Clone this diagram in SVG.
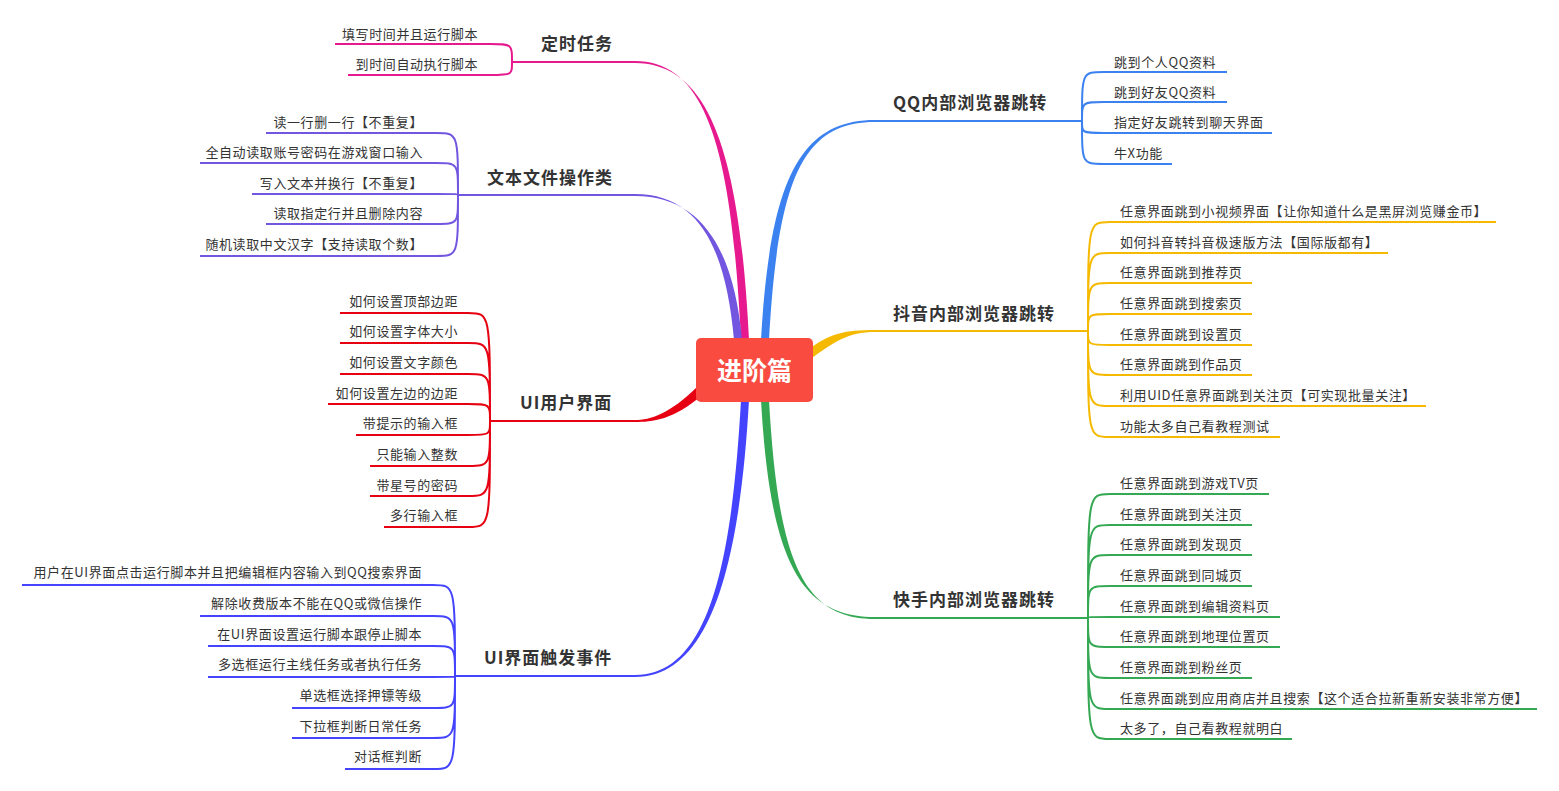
<svg xmlns="http://www.w3.org/2000/svg" width="1559" height="791" viewBox="0 0 1559 791">
<style>
.l{font-family:"Noto Sans CJK SC","Noto Sans",sans-serif;font-size:13px;fill:#333;letter-spacing:0.6px}
.t{font-family:"Noto Sans CJK SC","Noto Sans",sans-serif;font-size:17px;font-weight:bold;fill:#333;letter-spacing:1px}
.c{fill:none;stroke-width:2}
.e{text-anchor:end}
</style>
<rect width="1559" height="791" fill="#fff"/>
<g id="connectors">
<path d="M741,340 C732,160 710,61 635,61 L635,63 C712,63 740,160 749,340Z" fill="#E6198F"/>
<path d="M734,340 C726,250 700,194 635,194 L635,196 C702,196 734,250 742,340Z" fill="#7356E0"/>
<path d="M698,386 C670,414 650,420 635,420 L635,422 C652,422 674,420 702,395Z" fill="#E60012"/>
<path d="M741,400 C732,560 710,675 635,675 L635,677 C712,677 740,560 749,400Z" fill="#4444FF"/>
<path d="M761,340 C770,180 800,120 875,120 L875,122 C802,122 778,180 769,340Z" fill="#3B82F0"/>
<path d="M808,350 C830,333 845,330 875,330 L875,332 C848,332 834,342 812,358Z" fill="#F5BA00"/>
<path d="M761,400 C770,560 800,617 875,617 L875,619 C802,619 778,560 769,400Z" fill="#34A853"/>
<g stroke="#E6198F" class="c"><path d="M635,62 L512,62 M512,62 C512,44 512,44 490,44 L335,44 M512,62 C512,75 512,75 490,75 L348,75"/></g>
<g stroke="#7356E0" class="c"><path d="M635,195 L458,195 M458,195 C458,133 458,133 436,133 L266,133 M458,195 C458,163 458,163 436,163 L200,163 M458,195 C458,194 458,194 436,194 L252,194 M458,195 C458,224 458,224 436,224 L266,224 M458,195 C458,256 458,256 436,256 L200,256"/></g>
<g stroke="#E60012" class="c"><path d="M635,421 L490,421 M490,421 C490,313 490,313 468,313 L340,313 M490,421 C490,343 490,343 468,343 L340,343 M490,421 C490,374 490,374 468,374 L340,374 M490,421 C490,404 490,404 468,404 L328,404 M490,421 C490,435 490,435 468,435 L356,435 M490,421 C490,466 490,466 468,466 L370,466 M490,421 C490,496 490,496 468,496 L370,496 M490,421 C490,527 490,527 468,527 L384,527"/></g>
<g stroke="#4444FF" class="c"><path d="M635,676 L455,676 M455,676 C455,585 455,585 433,585 L22,585 M455,676 C455,616 455,616 433,616 L200,616 M455,676 C455,646 455,646 433,646 L208,646 M455,676 C455,677 455,677 433,677 L208,677 M455,676 C455,708 455,708 433,708 L292,708 M455,676 C455,738 455,738 433,738 L292,738 M455,676 C455,769 455,769 433,769 L345,769"/></g>
<g stroke="#3B82F0" class="c"><path d="M875,121 L1082,121 M1082,121 C1082,72 1082,72 1104,72 L1227,72 M1082,121 C1082,102 1082,102 1104,102 L1227,102 M1082,121 C1082,133 1082,133 1104,133 L1272,133 M1082,121 C1082,164 1082,164 1104,164 L1172,164"/></g>
<g stroke="#F5BA00" class="c"><path d="M875,331 L1088,331 M1088,331 C1088,222 1088,222 1110,222 L1496,222 M1088,331 C1088,253 1088,253 1110,253 L1388,253 M1088,331 C1088,283 1088,283 1110,283 L1252,283 M1088,331 C1088,314 1088,314 1110,314 L1252,314 M1088,331 C1088,345 1088,345 1110,345 L1252,345 M1088,331 C1088,375 1088,375 1110,375 L1252,375 M1088,331 C1088,406 1088,406 1110,406 L1426,406 M1088,331 C1088,437 1088,437 1110,437 L1280,437"/></g>
<g stroke="#34A853" class="c"><path d="M875,618 L1088,618 M1088,618 C1088,494 1088,494 1110,494 L1269,494 M1088,618 C1088,525 1088,525 1110,525 L1252,525 M1088,618 C1088,555 1088,555 1110,555 L1252,555 M1088,618 C1088,586 1088,586 1110,586 L1252,586 M1088,618 C1088,617 1088,617 1110,617 L1280,617 M1088,618 C1088,647 1088,647 1110,647 L1280,647 M1088,618 C1088,678 1088,678 1110,678 L1252,678 M1088,618 C1088,709 1088,709 1110,709 L1537,709 M1088,618 C1088,739 1088,739 1110,739 L1292,739"/></g>
</g>
<g id="center"><rect x="696" y="338" width="117" height="64" rx="5" fill="#F94B3F"/><text x="754.5" y="380" text-anchor="middle" font-family="Noto Sans CJK SC,sans-serif" font-size="25" font-weight="bold" fill="#fff">进阶篇</text></g>
<g id="dingshi"><text class="t" x="541" y="50">定时任务</text>
<text class="l e" x="478" y="39">填写时间并且运行脚本</text><text class="l e" x="478" y="69">到时间自动执行脚本</text></g>
<g id="wenben"><text class="t" x="487" y="184">文本文件操作类</text>
<text class="l e" x="423" y="127">读一行删一行【不重复】</text><text class="l e" x="423" y="157">全自动读取账号密码在游戏窗口输入</text><text class="l e" x="423" y="188">写入文本并换行【不重复】</text><text class="l e" x="423" y="218">读取指定行并且删除内容</text><text class="l e" x="423" y="249">随机读取中文汉字【支持读取个数】</text></g>
<g id="ui"><text class="t" x="520" y="409">UI用户界面</text>
<text class="l e" x="458" y="306">如何设置顶部边距</text><text class="l e" x="458" y="336">如何设置字体大小</text><text class="l e" x="458" y="367">如何设置文字颜色</text><text class="l e" x="458" y="398">如何设置左边的边距</text><text class="l e" x="458" y="428">带提示的输入框</text><text class="l e" x="458" y="459">只能输入整数</text><text class="l e" x="458" y="490">带星号的密码</text><text class="l e" x="458" y="520">多行输入框</text></g>
<g id="uievent"><text class="t" x="484" y="664">UI界面触发事件</text>
<text class="l e" x="422" y="577">用户在UI界面点击运行脚本并且把编辑框内容输入到QQ搜索界面</text><text class="l e" x="422" y="608">解除收费版本不能在QQ或微信操作</text><text class="l e" x="422" y="639">在UI界面设置运行脚本跟停止脚本</text><text class="l e" x="422" y="669">多选框运行主线任务或者执行任务</text><text class="l e" x="422" y="700">单选框选择押镖等级</text><text class="l e" x="422" y="731">下拉框判断日常任务</text><text class="l e" x="422" y="761">对话框判断</text></g>
<g id="qq"><text class="t" x="893" y="109">QQ内部浏览器跳转</text>
<text class="l" x="1114" y="67">跳到个人QQ资料</text><text class="l" x="1114" y="97">跳到好友QQ资料</text><text class="l" x="1114" y="127">指定好友跳转到聊天界面</text><text class="l" x="1114" y="158">牛X功能</text></g>
<g id="douyin"><text class="t" x="893" y="320">抖音内部浏览器跳转</text>
<text class="l" x="1120" y="216">任意界面跳到小视频界面【让你知道什么是黑屏浏览赚金币】</text><text class="l" x="1120" y="247">如何抖音转抖音极速版方法【国际版都有】</text><text class="l" x="1120" y="277">任意界面跳到推荐页</text><text class="l" x="1120" y="308">任意界面跳到搜索页</text><text class="l" x="1120" y="339">任意界面跳到设置页</text><text class="l" x="1120" y="369">任意界面跳到作品页</text><text class="l" x="1120" y="400">利用UID任意界面跳到关注页【可实现批量关注】</text><text class="l" x="1120" y="431">功能太多自己看教程测试</text></g>
<g id="kuaishou"><text class="t" x="893" y="606">快手内部浏览器跳转</text>
<text class="l" x="1120" y="488">任意界面跳到游戏TV页</text><text class="l" x="1120" y="519">任意界面跳到关注页</text><text class="l" x="1120" y="549">任意界面跳到发现页</text><text class="l" x="1120" y="580">任意界面跳到同城页</text><text class="l" x="1120" y="611">任意界面跳到编辑资料页</text><text class="l" x="1120" y="641">任意界面跳到地理位置页</text><text class="l" x="1120" y="672">任意界面跳到粉丝页</text><text class="l" x="1120" y="703">任意界面跳到应用商店并且搜索【这个适合拉新重新安装非常方便】</text><text class="l" x="1120" y="733">太多了，自己看教程就明白</text></g>
</svg>
